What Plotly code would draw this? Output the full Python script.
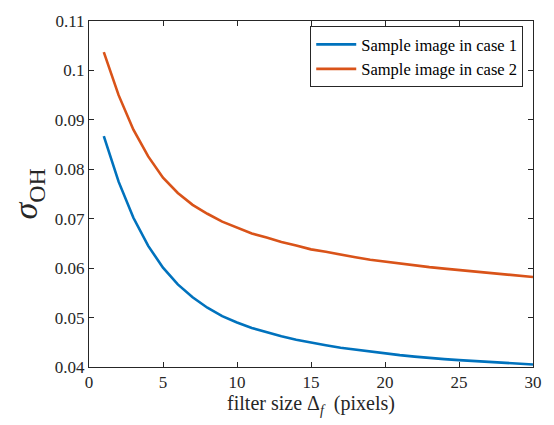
import plotly.graph_objects as go

x_vals = list(range(1, 31))
case1 = [0.0867, 0.0775, 0.0702, 0.0645, 0.0601, 0.0567, 0.0541, 0.0520, 0.0503, 0.0490,
         0.0479, 0.0470, 0.0462, 0.0455, 0.0449, 0.0444, 0.0439, 0.0435, 0.0431, 0.0427,
         0.0424, 0.0421, 0.0418, 0.0416, 0.0414, 0.0412, 0.0410, 0.0408, 0.0407, 0.0405]
case2 = [0.1037, 0.0950, 0.0880, 0.0826, 0.0783, 0.0752, 0.0728, 0.0710, 0.0694, 0.0682,
         0.0670, 0.0662, 0.0653, 0.0646, 0.0638, 0.0633, 0.0627, 0.0622, 0.0617, 0.0613,
         0.0609, 0.0606, 0.0602, 0.0599, 0.0596, 0.0593, 0.0590, 0.0587, 0.0585, 0.0582]
names = ["Sample image in case 1", "Sample image in case 2"]
x_ticks = [0, 5, 10, 15, 20, 25, 30]
y_ticks = [0.04, 0.05, 0.06, 0.07, 0.08, 0.09, 0.1, 0.11]
y_tick_text = ["0.04", "0.05", "0.06", "0.07", "0.08", "0.09", "0.1", "0.11"]

font = "Liberation Serif"
fig = go.Figure()
fig.add_trace(go.Scatter(x=x_vals, y=case1, mode="lines", name=names[0],
                         line=dict(color="#0072BD", width=2.6)))
fig.add_trace(go.Scatter(x=x_vals, y=case2, mode="lines", name=names[1],
                         line=dict(color="#D95319", width=2.6)))

axis_common = dict(showline=True, linecolor="#262626", linewidth=1, mirror="ticks",
                   ticks="inside", ticklen=5, tickcolor="#262626", showgrid=False,
                   zeroline=False, tickfont=dict(family=font, size=17, color="#262626"))
fig.update_layout(
    width=554, height=425,
    margin=dict(l=89, r=17, t=16, b=58),
    paper_bgcolor="white", plot_bgcolor="white",
    font=dict(family=font, color="#262626"),
    xaxis=dict(range=[0, 30], tickvals=x_ticks,
               title=dict(text="filter size Δ<sub><i>f</i></sub>&nbsp;&nbsp;(pixels)",
                          font=dict(family=font, size=20), standoff=4),
               **axis_common),
    yaxis=dict(range=[0.04, 0.11], tickvals=y_ticks, ticktext=y_tick_text,
               title=dict(text="<i>σ</i><sub>OH</sub>", font=dict(family=font, size=34), standoff=6),
               **axis_common),
    legend=dict(x=0.978, y=0.985, xanchor="right", yanchor="top",
                bgcolor="white", bordercolor="#262626", borderwidth=1,
                font=dict(family=font, size=16.5, color="black"),
                tracegroupgap=0, itemwidth=40),
    showlegend=True,
)
fig.write_html("out.html")
